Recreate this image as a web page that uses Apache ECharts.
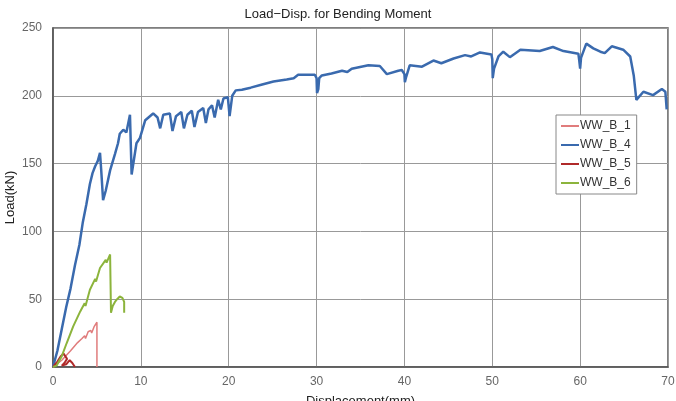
<!DOCTYPE html>
<html>
<head>
<meta charset="utf-8">
<script src="https://cdn.jsdelivr.net/npm/echarts@6/dist/echarts.min.js"></script>
<style>
  html, body { margin: 0; padding: 0; background: #fff; }
  #chart { width: 676px; height: 401px; }
</style>
</head>
<body>
<div id="chart"></div>
<script>
// values: [displacement mm, load kN]
const ww_b_1 = [
  [0, 0], [1, 5], [2, 12], [2.8, 18], [3.0, 17], [3.3, 21], [3.6, 23], [3.7, 21],
  [4.0, 26], [4.3, 27], [4.4, 25], [4.7, 30], [5.0, 33], [5.0, 0]
];
const ww_b_4 = [
  [0, 0], [0.5, 12], [1, 28], [1.5, 44], [2, 58], [2.5, 75], [3, 90], [3.4, 107],
  [3.8, 120], [4.2, 135], [4.5, 143], [4.8, 148], [5.1, 152], [5.35, 158], [5.5, 144],
  [5.7, 123], [6.0, 130], [6.5, 145], [7.05, 157], [7.4, 165], [7.6, 172], [8.0, 175],
  [8.35, 173], [8.76, 186], [8.95, 142], [9.5, 165], [9.9, 169], [10.5, 182], [11.4, 187],
  [11.9, 184], [12.2, 176], [12.55, 186], [13.3, 187], [13.6, 174], [14.0, 185], [14.6, 188],
  [14.9, 176], [15.3, 186], [15.8, 189], [16.1, 177], [16.5, 188], [17.1, 191], [17.4, 180],
  [17.7, 190], [18.1, 193], [18.4, 184], [18.8, 197], [19.1, 190], [19.4, 198], [19.9, 199],
  [20.1, 185], [20.4, 200], [20.8, 204], [21.5, 204.5], [22.5, 206], [23.6, 208], [25.1, 210.5],
  [26.6, 212], [27.4, 213], [27.9, 215.5], [29.8, 215.5], [30, 213], [30.05, 202], [30.2, 205],
  [30.3, 213], [30.6, 215], [31.7, 216.5], [32.9, 218.5], [33.5, 217.5], [34, 220], [35.9, 222.5],
  [37.2, 222], [38, 216], [39.3, 218.5], [39.7, 219], [40, 216], [40.05, 210], [40.2, 214],
  [40.6, 222.5], [42, 221.5], [43.3, 226], [44.2, 224], [45.6, 227.5], [46.9, 230], [47.6, 229],
  [48.6, 232], [49.9, 230.5], [50, 227], [50.05, 213], [50.2, 220], [50.7, 229], [51.25, 232.5],
  [52, 228.5], [53.2, 234], [55.4, 233], [56.9, 236], [58.1, 233], [59.8, 231], [59.9, 226],
  [60, 220], [60.1, 228], [60.7, 238.5], [61.5, 235], [62.3, 232.5], [62.8, 231.5], [63.6, 236.5],
  [64.9, 234], [65.7, 229], [66.1, 215], [66.4, 197], [67.2, 203], [68.3, 200.5], [69.3, 205],
  [69.7, 203], [69.85, 190]
];
const ww_b_5 = [
  [0, 0], [0.5, 4], [0.9, 8], [1.2, 10], [1.4, 9], [1.6, 6], [1.3, 3], [1.0, 1],
  [1.5, 2], [1.9, 5], [2.2, 3], [2.5, 0]
];
const ww_b_6 = [
  [0, 0], [0.4, 1], [1, 8], [1.55, 17.5], [2.3, 30], [3.1, 41], [3.6, 47], [3.7, 45],
  [4.2, 57], [4.8, 65], [4.9, 63], [5.35, 73], [6, 79], [6.1, 77], [6.5, 83], [6.6, 82],
  [6.6, 40], [6.8, 45], [7.05, 48], [7.3, 50], [7.6, 52], [7.9, 51], [8.1, 48], [8.1, 40]
];

const xTicks = { min: 0, max: 70, interval: 10 };
const yTicks = { min: 0, max: 250, interval: 50 };

const chart = echarts.init(document.getElementById("chart"));

function lineSeries(name, data, color, width) {
  return {
    type: "line",
    name,
    data,
    symbol: "none",
    color,
    lineStyle: { color, width },
  };
}

chart.setOption({
  animation: false,
  textStyle: { fontFamily: "Liberation Sans, Arial, sans-serif" },
  title: {
    text: "Load\u2212Disp. for Bending Moment",
    left: "center",
    top: 3,
    textStyle: { fontSize: 13, fontWeight: "normal", color: "#222" },
  },
  grid: {
    left: 53,
    right: 8,
    top: 28,
    bottom: 34,
    outerBoundsMode: "none",
    containLabel: false,
    show: true,
    borderColor: "#555",
    borderWidth: 1.5,
  },
  legend: {
    orient: "vertical",
    left: 556,
    top: 115,
    padding: [5, 6, 5, 5],
    icon: "rect",
    itemWidth: 18,
    itemHeight: 2,
    itemGap: 7,
    backgroundColor: "#fff",
    borderColor: "#888",
    borderWidth: 1,
    borderRadius: 0,
    textStyle: { fontSize: 12, color: "#333", padding: [0, 0, 0, -4], lineHeight: 12 },
    data: ["WW_B_1", "WW_B_4", "WW_B_5", "WW_B_6"],
  },
  xAxis: {
    type: "value",
    ...xTicks,
    name: "Displacement(mm)",
    nameLocation: "middle",
    nameGap: 28,
    nameMoveOverlap: false,
    nameTextStyle: { fontSize: 13, color: "#222" },
    axisLine: { show: true, lineStyle: { color: "#555", width: 1.5 } },
    axisTick: { show: false },
    axisLabel: { color: "#666", fontSize: 12, margin: 9 },
    splitLine: { show: true, lineStyle: { color: "#999", width: 1 } },
  },
  yAxis: {
    type: "value",
    ...yTicks,
    name: "Load(kN)",
    nameLocation: "middle",
    nameGap: 36,
    nameMoveOverlap: false,
    nameTextStyle: { fontSize: 13, color: "#222" },
    axisLine: { show: true, lineStyle: { color: "#555", width: 1.5 } },
    axisTick: { show: false },
    axisLabel: { color: "#666", fontSize: 12, margin: 11 },
    splitLine: { show: true, lineStyle: { color: "#999", width: 1 } },
  },
  series: [
    lineSeries("WW_B_1", ww_b_1, "#e07c7c", 1.5),
    lineSeries("WW_B_4", ww_b_4, "#3a6aae", 2.5),
    lineSeries("WW_B_5", ww_b_5, "#b02a2a", 2),
    lineSeries("WW_B_6", ww_b_6, "#8cb43c", 2),
  ],
});
</script>
</body>
</html>
